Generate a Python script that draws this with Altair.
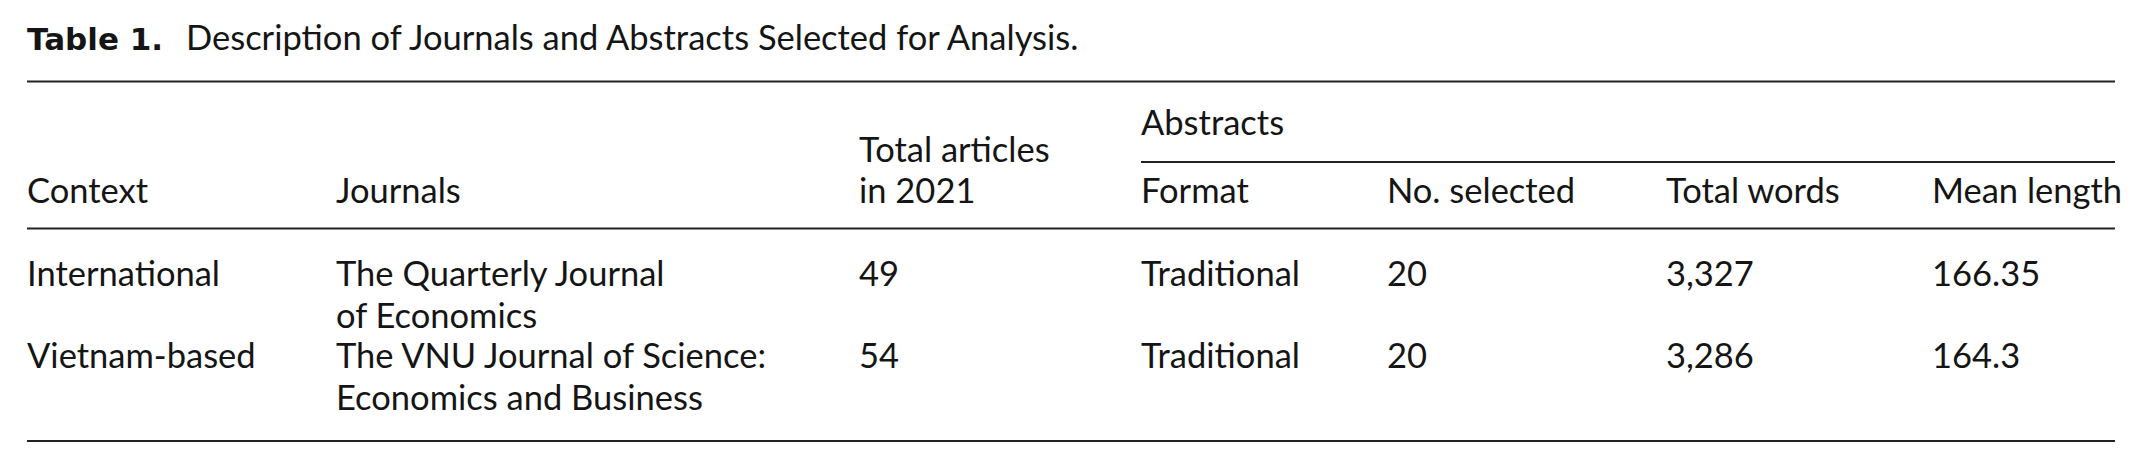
import altair as alt
import pandas as pd

# ---- table content ----
title_label = "Table 1."
title_text = "Description of Journals and Abstracts Selected for Analysis."
group_header = "Abstracts"
headers = ["Context", "Journals", "Total articles\nin 2021", "Format", "No. selected", "Total words", "Mean length"]
contexts = ["International", "Vietnam-based"]
journals = [["The Quarterly Journal", "of Economics"], ["The VNU Journal of Science:", "Economics and Business"]]
total_articles = ["49", "54"]
formats = ["Traditional", "Traditional"]
no_selected = ["20", "20"]
total_words = ["3,327", "3,286"]
mean_length = ["166.35", "164.3"]

# ---- layout (page pixels) ----
W, H = 2142, 468
col_x = [27, 336, 859, 1141, 1387, 1666, 1932]
left, right = 27, 2115
title_x = 186
title_base = 50
group_base = 135
header_base = 203
row_base = [286, 368]
line_gap = 41.5
rules_y = [81.5, 228.5, 441]
sub_rule_y = 162
FS = 34.5
TITLE_FS = 34.5
BOLD_FS = 31
FONT = "Lato"
BOLD_FONT = "DejaVu Sans"
COLOR = "#151515"

rows = []
rows.append(dict(text=group_header, x=col_x[3], y=group_base))
for i, h in enumerate(headers):
    parts = h.split("\n")
    for k, p in enumerate(parts):
        rows.append(dict(text=p, x=col_x[i], y=header_base - (len(parts) - 1 - k) * line_gap))
for r in range(len(contexts)):
    cells = [[contexts[r]], journals[r], [total_articles[r]], [formats[r]], [no_selected[r]], [total_words[r]], [mean_length[r]]]
    for c, lines in enumerate(cells):
        for k, p in enumerate(lines):
            rows.append(dict(text=p, x=col_x[c], y=row_base[r] + k * line_gap))
text_df = pd.DataFrame(rows)
title_df = pd.DataFrame([dict(text=title_text, x=title_x, y=title_base)])
bold_df = pd.DataFrame([dict(text=title_label, x=left, y=title_base)])

rule_df = pd.DataFrame(
    [dict(x=left, x2=right, y=y) for y in rules_y] + [dict(x=col_x[3], x2=right, y=sub_rule_y)]
)

xs = alt.Scale(domain=[8, W - 8], nice=False, zero=False)
ys = alt.Scale(domain=[8, H - 8], nice=False, zero=False, reverse=True)


def text_layer(df, weight, size, font):
    return alt.Chart(df).mark_text(
        align="left", baseline="alphabetic", font=font, fontSize=size, color=COLOR, fontWeight=weight
    ).encode(
        x=alt.X("x:Q", scale=xs, axis=None),
        y=alt.Y("y:Q", scale=ys, axis=None),
        text="text:N",
    )


rules = alt.Chart(rule_df).mark_rule(color="#222222", strokeWidth=2).encode(
    x=alt.X("x:Q", scale=xs, axis=None),
    x2="x2:Q",
    y=alt.Y("y:Q", scale=ys, axis=None),
)

chart = alt.layer(
    rules,
    text_layer(text_df, "normal", FS, FONT),
    text_layer(title_df, "normal", TITLE_FS, FONT),
    text_layer(bold_df, "bold", BOLD_FS, BOLD_FONT),
).properties(
    width=W - 16, height=H - 16, padding=0, background="white",
    autosize=alt.AutoSizeParams(type="none"),
).configure_view(strokeWidth=0)

chart.save("out.html", embed_options={"renderer": "svg", "actions": False})
